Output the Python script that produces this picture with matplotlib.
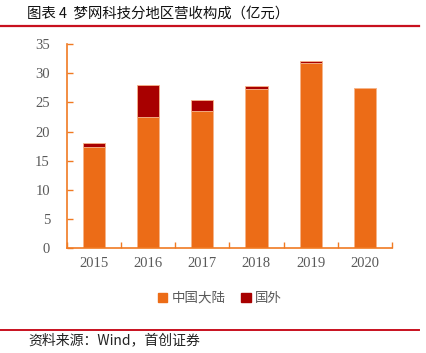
import matplotlib
matplotlib.use("Agg")
import matplotlib.pyplot as plt
from matplotlib.patches import Patch
from matplotlib.lines import Line2D
import numpy as np

years = ["2015", "2016", "2017", "2018", "2019", "2020"]
mainland = [17.4, 22.5, 23.5, 27.3, 31.8, 27.4]
overseas = [0.7, 5.5, 2.0, 0.45, 0.3, 0.0]
yticks = [0, 5, 10, 15, 20, 25, 30, 35]

ORANGE = "#EC6C17"
DARKRED = "#A80000"
AXIS = "#F07A22"
GRAY = "#595959"
LINE_RED = "#C8101E"

cjk = ["Noto Sans CJK SC", "DejaVu Sans"]
serif = ["Liberation Serif", "DejaVu Serif"]

fig = plt.figure(figsize=(4.27, 3.53), dpi=100)
ax = fig.add_axes([0.156, 0.2966, 0.762, 0.5784])

x = np.arange(len(years))
ax.bar(x, mainland, width=0.41, color=ORANGE, edgecolor="#F6B489", linewidth=0.6, zorder=2)
ax.bar(x, overseas, bottom=mainland, width=0.41, color=DARKRED, edgecolor="#F6B489", linewidth=0.6, zorder=2)

ax.set_xlim(-0.5, len(years) - 0.5)
ax.set_ylim(0, 35)
ax.set_yticks(yticks)
ax.set_yticklabels([str(v) for v in yticks], family=serif, fontsize=10.5, color=GRAY)
ax.set_xticks(x)
ax.set_xticklabels(years, family=serif, fontsize=10.5, color=GRAY)
ax.tick_params(axis="x", length=0, pad=6)
ax.tick_params(axis="y", direction="in", length=4, color=AXIS, width=1, pad=12)
ax.set_xticks(np.arange(-0.5, len(years), 1.0), minor=True)
ax.tick_params(axis="x", which="minor", direction="in", length=4, color=AXIS, width=1)

for s in ["top", "right"]:
    ax.spines[s].set_visible(False)
for s in ["left", "bottom"]:
    ax.spines[s].set_color(AXIS)
    ax.spines[s].set_linewidth(1.2)

handles = [Patch(color=ORANGE, label="中国大陆"), Patch(color=DARKRED, label="国外")]
fig.legend(handles=handles, loc="center", bbox_to_anchor=(0.515, 0.156), ncol=2, frameon=False,
           prop={"family": cjk, "size": 9.7}, handlelength=0.7, handleheight=0.7,
           handletextpad=0.3, columnspacing=1.2, labelcolor=GRAY)

fig.text(0.063, 0.961, "图表 4  梦网科技分地区营收构成（亿元）", family=cjk, fontsize=10.4,
         color="#111111", ha="left", va="center")
fig.add_artist(Line2D([0.0, 0.982], [1 - 25.5 / 353, 1 - 25.5 / 353], color=LINE_RED, linewidth=1.6))
fig.add_artist(Line2D([0.0, 0.982], [1 - 329.5 / 353, 1 - 329.5 / 353], color=LINE_RED, linewidth=1.4))
fig.text(0.066, 0.037, "资料来源：Wind，首创证券", family=cjk, fontsize=10, style="italic",
         color="#222222", ha="left", va="center")

fig.savefig("out.png", dpi=100)
